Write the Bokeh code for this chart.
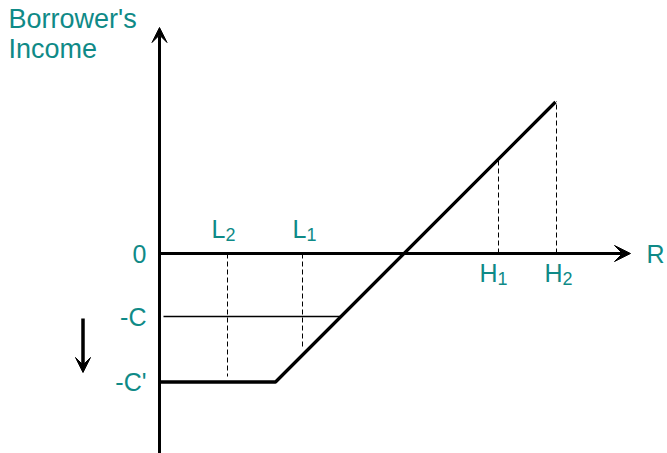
from bokeh.plotting import figure
from bokeh.models import Range1d, Arrow, VeeHead
from bokeh.core.properties import value
from bokeh.embed import file_html
from bokeh.resources import INLINE

# ---- data (R in units, income in units) ----
C = 6.3            # loan cost C
C_prime = 12.85    # higher cost C'
kink_R = 11.6      # R where payoff starts rising
top_R = 39.6       # end of payoff line
L_names = ["L", "L"]
L_subs = ["2", "1"]
L_vals = [6.8, 14.3]
H_names = ["H", "H"]
H_subs = ["1", "2"]
H_vals = [33.9, 39.7]
y_tick_labels = ["0", "-C", "-C'"]
y_tick_vals = [0.0, -C, -C_prime]

TEAL = "#0f8a87"
FONT = value("Liberation Sans")

p = figure(width=667, height=453, output_backend="svg", toolbar_location=None,
           x_range=Range1d(-15.9, 50.8), y_range=Range1d(-20.0, 25.3),
           min_border=0)
p.axis.visible = False
p.grid.visible = False
p.outline_line_color = None

def payoff(r):
    return max(-C_prime, r - kink_R - C_prime)

# payoff line
pr = [0.0, kink_R, top_R]
p.line(pr, [payoff(r) for r in pr], line_color="black", line_width=3.3)

# -C line
rC = kink_R + (C_prime - C)
p.line([0.4, rC], [-C, -C], line_color="black", line_width=1.6)

# dashed verticals
for r in L_vals:
    p.line([r, r], [0, payoff(r) + 0.55], line_color="black", line_width=1,
           line_dash="5 3")
for r in H_vals:
    p.line([r, r], [0, payoff(r)], line_color="black", line_width=1,
           line_dash="5 3")

# axes with arrows
p.add_layout(Arrow(end=VeeHead(size=15, fill_color="black", line_color="black"),
                   x_start=0, y_start=-21, x_end=0, y_end=22.6,
                   line_color="black", line_width=3))
p.add_layout(Arrow(end=VeeHead(size=16, fill_color="black", line_color="black"),
                   x_start=0, y_start=0, x_end=47.1, y_end=0,
                   line_color="black", line_width=3))
# down arrow (cost increase)
p.add_layout(Arrow(end=VeeHead(size=15, fill_color="black", line_color="black"),
                   x_start=-7.65, y_start=-C - 0.2, x_end=-7.65, y_end=-C_prime + 0.95,
                   line_color="black", line_width=3.5))

# y labels
p.text(x=[-1.3] * 3, y=y_tick_vals, text=y_tick_labels, text_align="right",
       text_baseline="middle", text_color=TEAL, text_font=FONT,
       text_font_size="25px")

# L labels
p.text(x=L_vals, y=[0, 0], text=L_names, text_align="right", text_baseline="alphabetic",
       x_offset=[-2, 4], y_offset=[-25, -25], text_color=TEAL, text_font=FONT,
       text_font_size="25px")
p.text(x=L_vals, y=[0, 0], text=L_subs, text_align="left", text_baseline="alphabetic",
       x_offset=[-2, 4], y_offset=[-19, -19], text_color=TEAL, text_font=FONT,
       text_font_size="18px")
# H labels
p.text(x=H_vals, y=[0, 0], text=H_names, text_align="right", text_baseline="alphabetic",
       x_offset=[-1, 6], y_offset=[19, 19], text_color=TEAL, text_font=FONT,
       text_font_size="25px")
p.text(x=H_vals, y=[0, 0], text=H_subs, text_align="left", text_baseline="alphabetic",
       x_offset=[-1, 6], y_offset=[25, 25], text_color=TEAL, text_font=FONT,
       text_font_size="18px")

# axis titles
p.text(x=[48.7], y=[0], text=["R"], text_align="left", text_baseline="middle",
       text_color=TEAL, text_font=FONT, text_font_size="25px")
p.text(x=[-15.1, -15.1], y=[23.5, 20.5], text=["Borrower's", "Income"],
       text_align="left", text_baseline="alphabetic", text_color=TEAL,
       text_font=FONT, text_font_size="27px")

open("out.html", "w").write(file_html(p, INLINE))
